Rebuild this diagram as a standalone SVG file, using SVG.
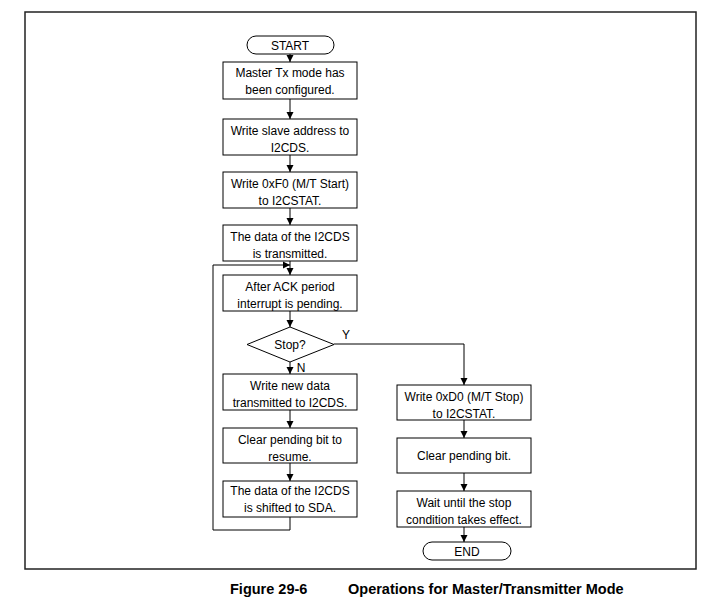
<svg xmlns="http://www.w3.org/2000/svg" width="714" height="606" viewBox="0 0 714 606">
<style>
.b{fill:#fff;stroke:#000;stroke-width:1}
.t{font-family:"Liberation Sans",Arial,sans-serif;font-size:12px;fill:#000;text-anchor:middle}
.c{fill:none;stroke:#000;stroke-width:1}
.cap{font-family:"Liberation Sans",Arial,sans-serif;font-size:14.5px;font-weight:bold;fill:#000}
</style>
<defs>
<marker id="a" markerWidth="8" markerHeight="8" refX="7" refY="4" orient="auto" markerUnits="userSpaceOnUse">
<path d="M0,0.5 L7,4 L0,7.5 Z" fill="#000"/>
</marker>
</defs>
<rect x="25" y="12" width="671" height="557" fill="#fff" stroke="#222" stroke-width="1.5"/>
<g id="connectors">
<path class="c" d="M290,54 V62" marker-end="url(#a)"/>
<path class="c" d="M290,99 V119" marker-end="url(#a)"/>
<path class="c" d="M290,155 V172" marker-end="url(#a)"/>
<path class="c" d="M290,208 V225" marker-end="url(#a)"/>
<path class="c" d="M290,261 V275" marker-end="url(#a)"/>
<path class="c" d="M290,311 V327" marker-end="url(#a)"/>
<path class="c" d="M290,362 V374" marker-end="url(#a)"/>
<path class="c" d="M290,410 V428" marker-end="url(#a)"/>
<path class="c" d="M290,463 V481" marker-end="url(#a)"/>
<path class="c" d="M290,517 V530 H213 V265 H290" marker-end="url(#a)"/>
<path class="c" d="M334,344 H464 V385" marker-end="url(#a)"/>
<path class="c" d="M464,420 V438" marker-end="url(#a)"/>
<path class="c" d="M464,473 V491" marker-end="url(#a)"/>
<path class="c" d="M464,527 V542" marker-end="url(#a)"/>
<text class="t" x="346" y="339">Y</text>
<text class="t" x="301" y="372">N</text>
</g>
<g id="start"><rect class="b" x="247" y="36" width="87" height="18" rx="9"/><text class="t" x="290" y="49.5">START</text></g>
<g id="n1"><rect class="b" x="223" y="62" width="134" height="37"/><text class="t" x="290" y="77">Master Tx mode has</text><text class="t" x="290" y="94">been configured.</text></g>
<g id="n2"><rect class="b" x="223" y="119" width="134" height="36"/><text class="t" x="290" y="135">Write slave address to</text><text class="t" x="290" y="152">I2CDS.</text></g>
<g id="n3"><rect class="b" x="223" y="172" width="134" height="36"/><text class="t" x="290" y="188">Write 0xF0 (M/T Start)</text><text class="t" x="290" y="205">to I2CSTAT.</text></g>
<g id="n4"><rect class="b" x="223" y="225" width="134" height="36"/><text class="t" x="290" y="241">The data of the I2CDS</text><text class="t" x="290" y="258">is transmitted.</text></g>
<g id="n5"><rect class="b" x="223" y="275" width="134" height="36"/><text class="t" x="290" y="291">After ACK period</text><text class="t" x="290" y="308">interrupt is pending.</text></g>
<g id="d1"><polygon class="b" points="290,327 334,344.5 290,362 247,344.5"/><text class="t" x="290" y="349">Stop?</text></g>
<g id="n6"><rect class="b" x="223" y="374" width="134" height="36"/><text class="t" x="290" y="390">Write new data</text><text class="t" x="290" y="407">transmitted to I2CDS.</text></g>
<g id="n7"><rect class="b" x="223" y="428" width="134" height="35"/><text class="t" x="290" y="444">Clear pending bit to</text><text class="t" x="290" y="461">resume.</text></g>
<g id="n8"><rect class="b" x="223" y="481" width="134" height="36"/><text class="t" x="290" y="495">The data of the I2CDS</text><text class="t" x="290" y="512">is shifted to SDA.</text></g>
<g id="r1"><rect class="b" x="397" y="385" width="134" height="35"/><text class="t" x="464" y="401">Write 0xD0 (M/T Stop)</text><text class="t" x="464" y="418">to I2CSTAT.</text></g>
<g id="r2"><rect class="b" x="397" y="438" width="134" height="35"/><text class="t" x="464" y="460">Clear pending bit.</text></g>
<g id="r3"><rect class="b" x="397" y="491" width="134" height="36"/><text class="t" x="464" y="507">Wait until the stop</text><text class="t" x="464" y="524">condition takes effect.</text></g>
<g id="end"><rect class="b" x="423" y="542" width="88" height="18" rx="9"/><text class="t" x="467" y="555.5">END</text></g>
<text class="cap" x="230" y="594">Figure 29-6</text>
<text class="cap" x="348" y="594">Operations for Master/Transmitter Mode</text>
</svg>
